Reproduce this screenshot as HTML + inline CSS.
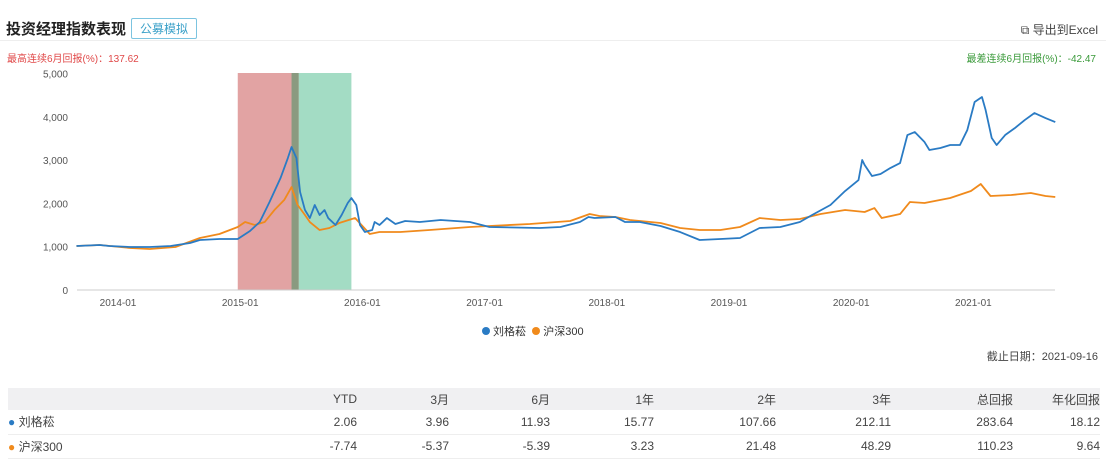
<!DOCTYPE html>
<html><head><meta charset="utf-8"><style>
body{margin:0;width:1106px;height:466px;background:#fff;font-family:"Liberation Sans","Noto Sans CJK SC",sans-serif;overflow:hidden;position:relative}
.abs{position:absolute;white-space:nowrap}
table{border-collapse:collapse;position:absolute;left:8px;top:388px;width:1092px;font-size:12px;color:#444;table-layout:fixed}
td{text-align:right;padding:0}
</style></head><body>
<div class="abs" style="left:6px;top:18px;font-size:15px;font-weight:bold;color:#222">投资经理指数表现</div>
<div class="abs" style="left:131px;top:18px;font-size:12px;color:#3aa0c8;border:1px solid #7cc4e0;padding:1px 8px;border-radius:2px">公募模拟</div>
<div class="abs" style="right:8px;top:21px;font-size:12px;color:#444">⧉ 导出到Excel</div>
<div class="abs" style="left:0;top:40px;width:1106px;height:1px;background:#eee"></div>
<div class="abs" style="left:7px;top:50px;font-size:10px;color:#e04848">最高连续6月回报(%)：137.62</div>
<div class="abs" style="right:10px;top:50px;font-size:10px;color:#3a9a3a">最差连续6月回报(%)：-42.47</div>
<svg id="chart" class="abs" style="left:0;top:0" width="1106" height="380"></svg>
<div class="abs" style="left:482px;top:323px;font-size:11px;color:#333">
<span><span style="display:inline-block;width:8px;height:8px;border-radius:50%;background:#2a7bc4"></span> 刘格菘</span>
&nbsp;<span><span style="display:inline-block;width:8px;height:8px;border-radius:50%;background:#f08a1c"></span> 沪深300</span></div>
<div class="abs" style="right:8px;top:348px;font-size:11px;color:#444">截止日期：2021-09-16</div>
<table>
<colgroup><col style="width:292px"><col style="width:57px"><col style="width:92px"><col style="width:101px"><col style="width:104px"><col style="width:122px"><col style="width:115px"><col style="width:122px"><col style="width:87px"></colgroup>
<tr style="background:#f0f0f2;height:22px"><td style="text-align:left"></td><td>YTD</td><td>3月</td><td>6月</td><td>1年</td><td>2年</td><td>3年</td><td>总回报</td><td>年化回报</td></tr>
<tr style="height:24px;border-bottom:1px solid #eee"><td style="text-align:left"><span style="color:#2a7bc4">●</span> 刘格菘</td><td>2.06</td><td>3.96</td><td>11.93</td><td>15.77</td><td>107.66</td><td>212.11</td><td>283.64</td><td>18.12</td></tr>
<tr style="height:24px;border-bottom:1px solid #eee"><td style="text-align:left"><span style="color:#f08a1c">●</span> 沪深300</td><td>-7.74</td><td>-5.37</td><td>-5.39</td><td>3.23</td><td>21.48</td><td>48.29</td><td>110.23</td><td>9.64</td></tr>
</table>
<script>
const yTicks=[0,1000,2000,3000,4000,5000];
const xTickYears=[2014,2015,2016,2017,2018,2019,2020,2021];
const xTickLabels=["2014-01","2015-01","2016-01","2017-01","2018-01","2019-01","2020-01","2021-01"];
const managerT=[2013.66,2013.85,2013.93,2014.10,2014.26,2014.43,2014.59,2014.67,2014.83,2014.98,2015.08,2015.16,2015.24,2015.33,2015.39,2015.42,2015.46,2015.49,2015.53,2015.57,2015.61,2015.65,2015.69,2015.72,2015.78,2015.83,2015.88,2015.91,2015.95,2015.98,2016.02,2016.08,2016.10,2016.14,2016.20,2016.27,2016.35,2016.47,2016.64,2016.88,2017.04,2017.45,2017.62,2017.78,2017.85,2017.90,2018.07,2018.15,2018.27,2018.44,2018.60,2018.76,2018.93,2019.09,2019.25,2019.42,2019.58,2019.68,2019.83,2019.95,2020.06,2020.09,2020.11,2020.17,2020.24,2020.32,2020.40,2020.46,2020.52,2020.60,2020.64,2020.73,2020.81,2020.89,2020.95,2021.01,2021.07,2021.10,2021.15,2021.19,2021.26,2021.34,2021.42,2021.50,2021.59,2021.67];
const managerV=[1016,1039,1016,993,993,1016,1085,1155,1178,1178,1362,1570,2032,2586,3048,3302,3048,2263,1847,1662,1963,1732,1847,1662,1501,1732,2009,2124,1963,1501,1339,1385,1570,1501,1662,1524,1593,1570,1616,1570,1455,1432,1455,1570,1686,1662,1686,1570,1570,1478,1339,1155,1178,1201,1432,1455,1570,1732,1963,2286,2540,3002,2886,2632,2678,2817,2932,3579,3648,3417,3233,3279,3348,3348,3694,4341,4456,4156,3510,3348,3579,3741,3925,4087,3971,3879];
const csiT=[2013.66,2013.85,2014.10,2014.26,2014.47,2014.67,2014.83,2014.98,2015.04,2015.12,2015.20,2015.28,2015.36,2015.42,2015.47,2015.53,2015.57,2015.65,2015.73,2015.81,2015.94,2016.00,2016.06,2016.14,2016.31,2016.55,2016.88,2017.04,2017.37,2017.70,2017.86,2017.94,2018.07,2018.19,2018.44,2018.60,2018.76,2018.93,2019.09,2019.25,2019.42,2019.58,2019.75,2019.95,2020.11,2020.19,2020.25,2020.40,2020.48,2020.60,2020.81,2020.98,2021.06,2021.14,2021.31,2021.47,2021.59,2021.67];
const csiV=[1016,1039,970,947,993,1201,1293,1455,1570,1501,1570,1847,2078,2378,1963,1732,1570,1385,1432,1547,1662,1478,1293,1339,1339,1385,1455,1478,1524,1593,1755,1709,1686,1616,1547,1432,1385,1385,1455,1662,1616,1639,1755,1847,1801,1893,1662,1755,2032,2009,2124,2286,2448,2171,2194,2240,2171,2147];
const X0=118,PX=122.2,Y0=290,PY=0.0433;
const xs=t=>X0+(t-2014)*PX, ys=v=>Y0-v*PY;
const svg=document.getElementById('chart');const NS='http://www.w3.org/2000/svg';
function mk(tag,attrs){const e=document.createElementNS(NS,tag);for(const k in attrs)e.setAttribute(k,attrs[k]);svg.appendChild(e);return e;}
let b=mk('rect',{x:xs(2014.98),y:73,width:xs(2015.42)-xs(2014.98),height:217,fill:'#e2a3a3'});


b=mk('rect',{x:xs(2015.42),y:73,width:xs(2015.48)-xs(2015.42),height:217,fill:'#8a9a80'});


b=mk('rect',{x:xs(2015.48),y:73,width:xs(2015.91)-xs(2015.48),height:217,fill:'#a3dcc4'});


yTicks.forEach(v=>{const t=mk('text',{x:68,y:ys(v)+4,'text-anchor':'end','font-size':10,fill:'#555'});t.textContent=v===0?'0':v.toLocaleString('en-US');

});
const ax=mk('line',{x1:77,x2:1055,y1:Y0,y2:Y0,stroke:'#ccc'});


xTickYears.forEach((yr,i)=>{const t=mk('text',{x:xs(yr),y:306,'text-anchor':'middle','font-size':10,fill:'#555'});t.textContent=xTickLabels[i];

});
function line(T,V,c,n){const p=mk('polyline',{points:T.map((t,i)=>xs(t)+','+ys(V[i])).join(' '),fill:'none',stroke:c,'stroke-width':1.8,'stroke-linejoin':'round'});

}
line(csiT,csiV,'#f08a1c','csi300-line');
line(managerT,managerV,'#2a7bc4','manager-line');
</script>
</body></html>
